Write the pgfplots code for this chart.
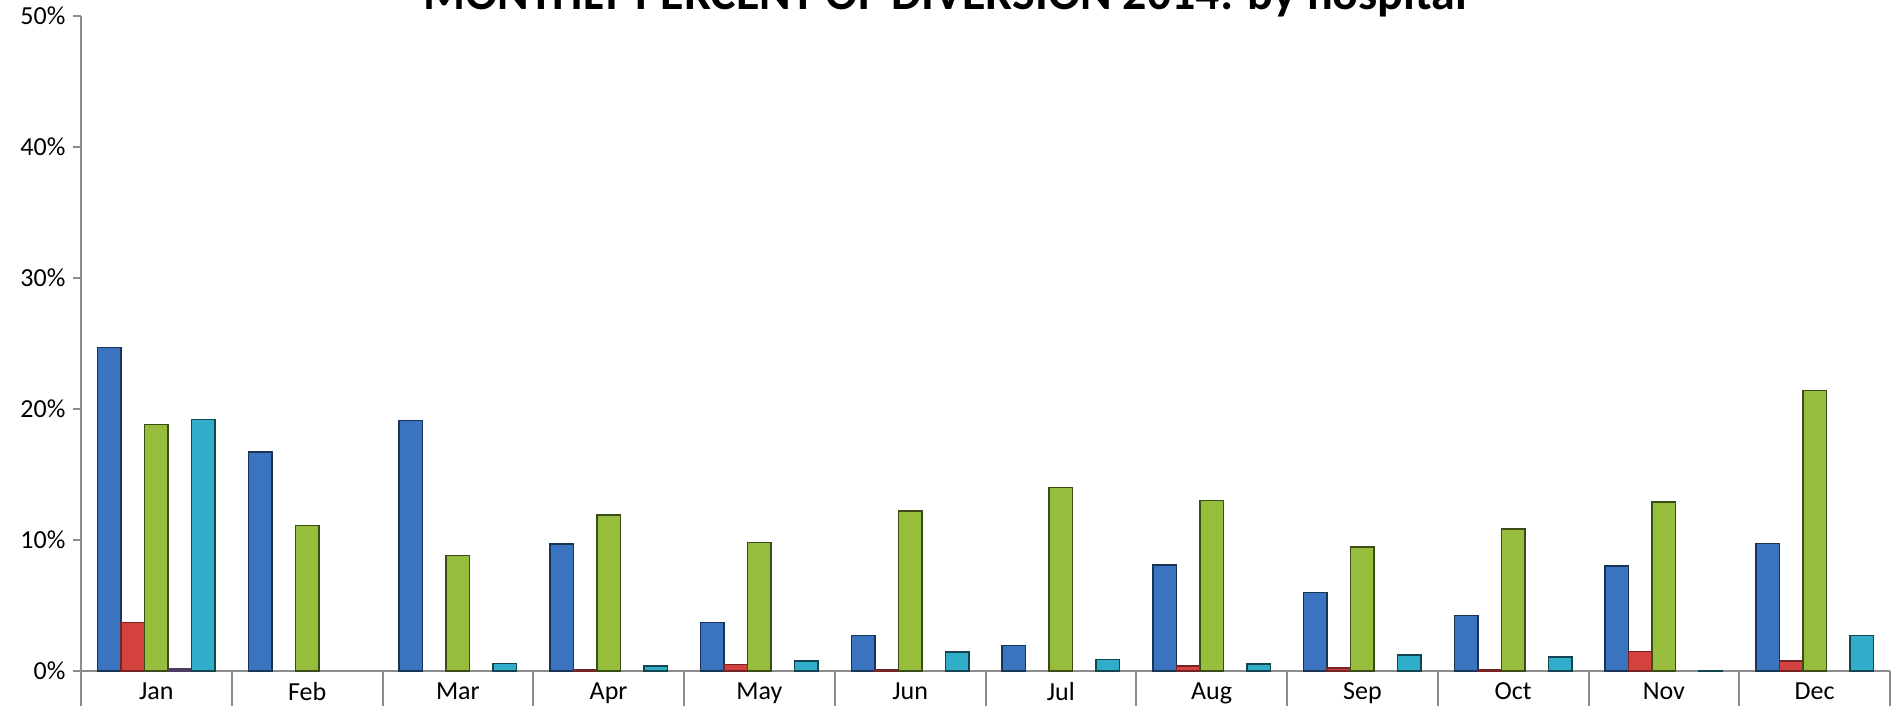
\documentclass[border=0pt]{standalone}
\usepackage{pgfplots}
\usepackage{pgfplotstable}
\pgfplotsset{compat=1.18}
\usepackage{fontspec}
\setmainfont{Carlito}

\definecolor{cblue}{HTML}{3A74C0}
\definecolor{cred}{HTML}{D4423F}
\definecolor{cgreen}{HTML}{96BD3C}
\definecolor{cpurple}{HTML}{8064A2}
\definecolor{ccyan}{HTML}{30ADC8}

% percent of diversion by hospital, 2014 (nan = nothing drawn)
\pgfplotstableread{
x  blue   red   green  purple cyan
0  24.7   3.7   18.8   0.15   19.2
1  16.7   nan   11.1   nan    nan
2  19.1   nan   8.8    nan    0.55
3  9.7    0.1   11.9   nan    0.38
4  3.7    0.5   9.8    nan    0.76
5  2.7    0.1   12.2   nan    1.45
6  1.95   nan   14.0   nan    0.9
7  8.1    0.38  13.0   nan    0.53
8  6.0    0.23  9.45   nan    1.22
9  4.25   0.13  10.85  nan    1.07
10 8.0    1.5   12.9   nan    0.05
11 9.75   0.76  21.4   nan    2.73
}\hosp

\begin{document}
\begin{tikzpicture}
\begin{axis}[
  scale only axis,
  width=904.5pt, height=327.65pt,
  ybar=0pt, bar width=11.75pt,
  xmin=-0.5, xmax=11.5,
  ymin=0, ymax=50,
  axis x line*=bottom, axis y line*=left,
  axis line style={draw=black!45, line width=1pt},
  xtick={-0.5,0.5,...,11.5},
  xticklabels={Jan,Feb,Mar,Apr,May,Jun,Jul,Aug,Sep,Oct,Nov,Dec},
  x tick label as interval,
  xtick style={draw=black!45, line width=1pt, /pgfplots/major tick length=17.5pt},
  xtick align=outside,
  xticklabel style={yshift=2pt},
  ytick={0,10,...,50},
  yticklabel={\pgfmathprintnumber{\tick}\%},
  ytick style={draw=black!45, line width=1pt, /pgfplots/major tick length=4pt},
  ytick align=outside,
  ticklabel style={font=\fontsize{13}{15}\selectfont},
  /pgf/number format/assume math mode=true,
  every axis plot/.append style={line width=0.7pt},
]
\addplot[draw=cblue!45!black, fill=cblue] table[x=x,y=blue]{\hosp};
\addplot[draw=cred!55!black, fill=cred] table[x=x,y=red]{\hosp};
\addplot[draw=cgreen!40!black, fill=cgreen] table[x=x,y=green]{\hosp};
\addplot[draw=cpurple!60!black, fill=cpurple] table[x=x,y=purple]{\hosp};
\addplot[draw=ccyan!40!black, fill=ccyan] table[x=x,y=cyan]{\hosp};
\end{axis}
\node[anchor=base, font=\fontsize{24}{28}\selectfont\bfseries] at (432pt,330.5pt) {MONTHLY PERCENT OF DIVERSION 2014: by hospital};
\pgfresetboundingbox
\useasboundingbox (-40.5pt,-17.5pt) rectangle (906.5pt,335.5pt);
\end{tikzpicture}
\end{document}
